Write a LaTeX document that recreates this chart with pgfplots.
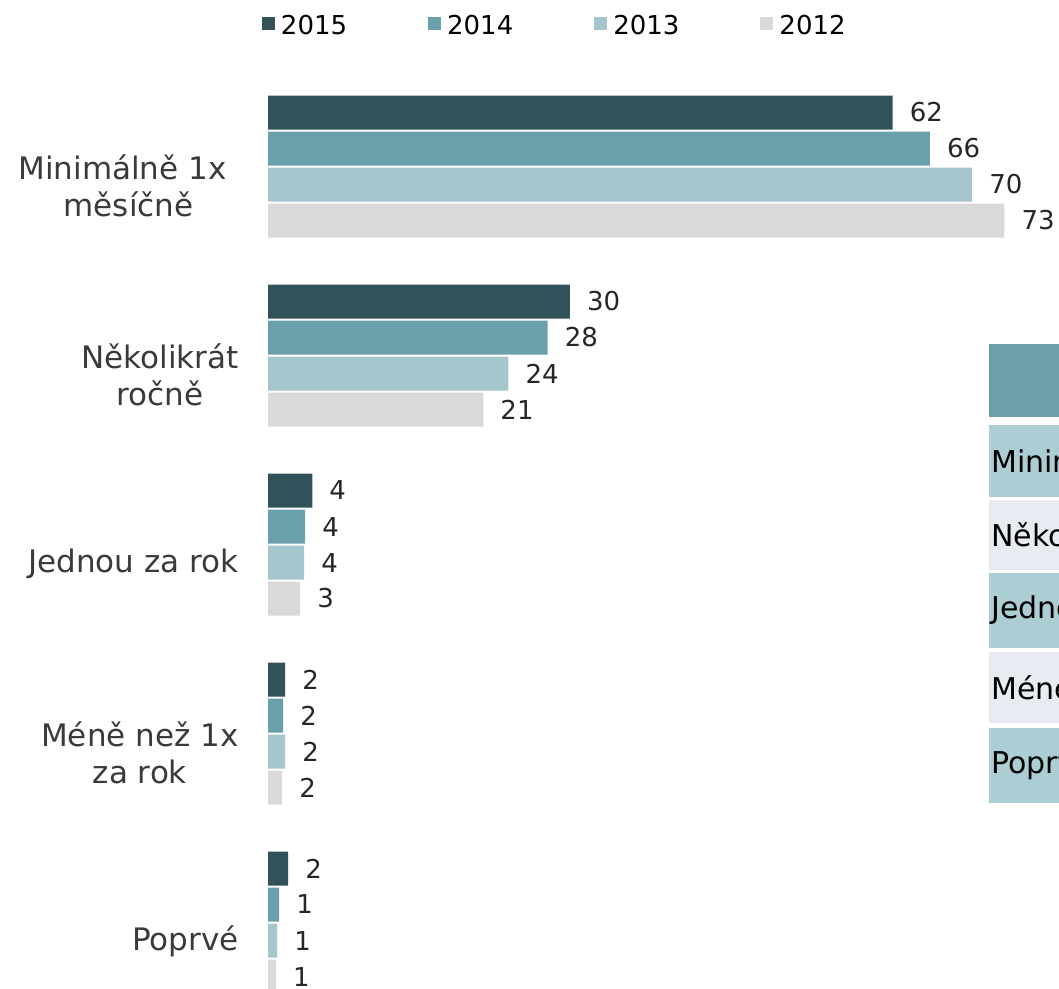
\documentclass[border=0pt]{standalone}
\usepackage{fontspec}
\setmainfont{DejaVu Sans}
\usepackage{pgfplots}
\pgfplotsset{compat=1.18}
\definecolor{c15}{RGB}{49,82,89}
\definecolor{c14}{RGB}{105,160,172}
\definecolor{c13}{RGB}{165,198,205}
\definecolor{c12}{RGB}{217,217,217}
\definecolor{thead}{RGB}{106,159,171}
\definecolor{todd}{RGB}{172,205,211}
\definecolor{teven}{RGB}{232,236,242}
\definecolor{lab}{RGB}{38,38,38}
\definecolor{catc}{RGB}{58,58,58}
\begin{document}
\begin{tikzpicture}[x=1pt,y=1pt]
\useasboundingbox (0,0) rectangle (1059,-988);
\begin{axis}[
  at={(268pt,0pt)}, anchor=north west,
  scale only axis, width=791pt, height=988pt,
  xmin=0, xmax=78.63, ymin=-0.881, ymax=4.3466,
  y dir=reverse,
  xbar, bar width=34pt,
  clip=false,
  axis line style={draw=none},
  tick style={draw=none},
  xtick=\empty,
  ytick={0,1,2,3,4},
  yticklabels={{Minimálně 1x\kern12pt\\měsíčně},{Několikrát\\ročně},{Jednou za rok},{Méně než 1x\\za rok},{Poprvé}},
  yticklabel style={align=center, anchor=east, inner sep=0pt, xshift=-25pt, yshift=-19pt, font=\fontsize{31}{37}\selectfont, text=catc},
  nodes near coords, point meta=explicit symbolic,
  nodes near coords style={anchor=west, inner sep=0pt, xshift=17pt, font=\fontsize{26}{30}\selectfont, text=lab},
  legend columns=4,
  legend style={at={(axis description cs:-0.0076,0.9737)}, anchor=west, draw=none, fill=none, inner sep=0pt, outer sep=0pt,
    font=\fontsize{26}{30}\selectfont,
    nodes={inner sep=0pt, text=black},
    /tikz/every odd column/.append style={column sep=6pt},
    /tikz/every even column/.append style={column sep=81pt}},
  legend image code/.code={\draw[#1,draw=none] (0pt,-4pt) rectangle (13pt,9pt);},
]
\addplot[fill=c15, draw=none, bar shift=54pt] coordinates {(62.1,0)[62] (30.0,1)[30] (4.4,2)[4] (1.7,3)[2] (2.0,4)[2]};
\addplot[fill=c14, draw=none, bar shift=18pt] coordinates {(65.8,0)[66] (27.8,1)[28] (3.7,2)[4] (1.5,3)[2] (1.1,4)[1]};
\addplot[fill=c13, draw=none, bar shift=-18pt] coordinates {(70.0,0)[70] (23.9,1)[24] (3.6,2)[4] (1.7,3)[2] (0.9,4)[1]};
\addplot[fill=c12, draw=none, bar shift=-54pt] coordinates {(73.2,0)[73] (21.4,1)[21] (3.2,2)[3] (1.4,3)[2] (0.8,4)[1]};
\legend{2015,2014,2013,2012}
\end{axis}
\fill[thead] (989,-344) rectangle (1100,-417);
\fill[todd] (989,-425) rectangle (1100,-497);
\fill[teven] (989,-500) rectangle (1100,-570);
\fill[todd] (989,-573) rectangle (1100,-648);
\fill[teven] (989,-652) rectangle (1100,-723);
\fill[todd] (989,-728) rectangle (1100,-803);
\begin{scope}[every node/.style={anchor=west, inner sep=0pt, font=\fontsize{30}{34}\selectfont, text=black}]
\node at (991,-461) {Minimálně 1x měsíčně};
\node at (991,-535) {Několikrát ročně};
\node at (991,-610) {Jednou za rok};
\node at (991,-688) {Méně než 1x za rok};
\node at (991,-765) {Poprvé};
\end{scope}
\end{tikzpicture}
\end{document}
